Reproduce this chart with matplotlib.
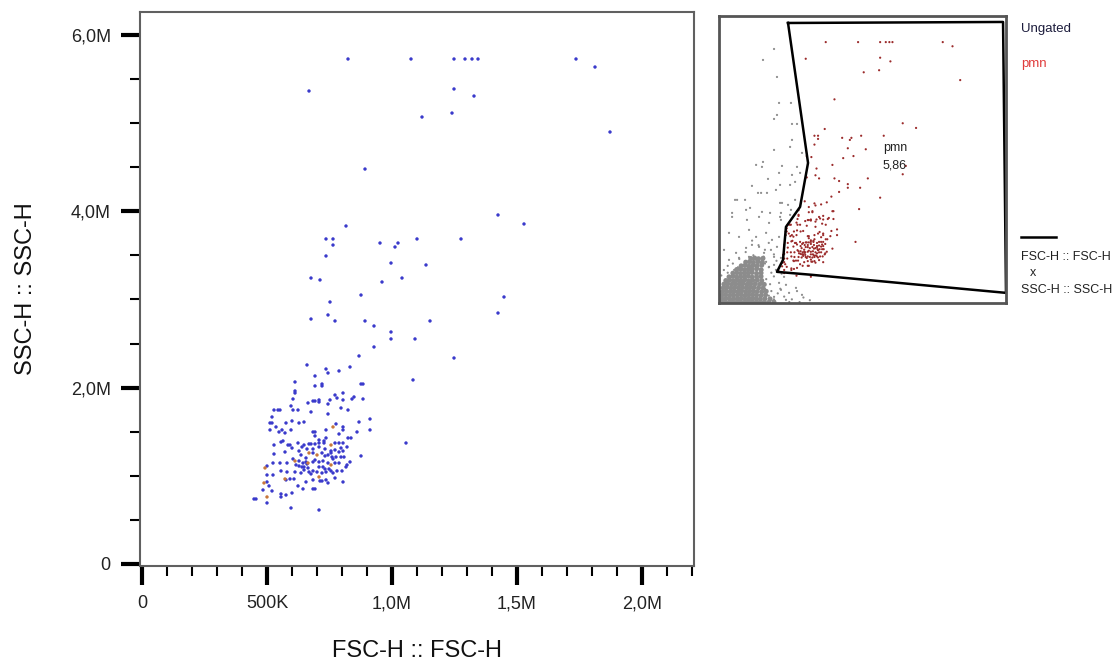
import matplotlib
matplotlib.use('Agg')
import matplotlib.pyplot as plt
from matplotlib.ticker import MultipleLocator, FixedLocator

plt.rcParams['font.family'] = ['Liberation Sans', 'DejaVu Sans']

# pmn population, FSC-H / SSC-H in thousands
fsc_blue = [824, 668, 892, 816, 736, 764, 764, 952, 1024, 1012, 1100, 1276, 996, 1136, 736, 676, 712, 960, 1040, 876,
            752, 676, 744, 772, 892, 928, 1152, 996, 996, 1092, 1248, 1084, 1056, 1076, 1248, 1292, 1320, 1344, 1736, 1812,
            1248, 1328, 1120, 1240, 1872, 1424, 1528, 1448, 1424,
            660, 612, 612, 612, 604, 664, 596, 528, 544, 552, 604, 624, 520,
            928, 868, 832, 736, 744, 788, 692, 692, 720, 720, 876, 884, 804, 772, 780, 752, 804, 848, 840, 884,
            684, 692, 708, 708, 744, 676, 796, 824, 744, 912,
            512, 520, 536, 576, 600, 628, 648, 560, 572, 596, 512, 548, 556, 564, 584, 592, 528, 624, 640, 648,
            668, 572, 600, 628, 660, 528, 636, 656, 604, 628, 644, 656, 660, 580, 552, 524, 500, 616, 628, 640,
            648, 664, 556, 580, 612, 636, 648, 668, 500, 524, 576, 592, 608, 500, 656, 508, 624, 520, 644, 484,
            556, 556, 576, 600, 448, 456, 500, 596,
            776, 804, 804, 868, 912, 860, 788, 824, 836, 684, 692, 692, 736, 736, 708, 728, 676, 692, 708, 728,
            772, 788, 804, 796, 820, 684, 708, 732, 756, 756, 760, 772, 788, 804, 684, 720, 732, 744, 764, 776,
            796, 808, 876, 692, 684, 708, 724, 744, 772, 788, 820, 832, 708, 724, 732, 748, 764, 756, 684, 700,
            720, 736, 780, 800, 816, 676, 772, 684, 712, 720, 736, 744, 804, 684, 692, 708]
ssc_blue = [5727, 5364, 4479, 3833, 3686, 3686, 3617, 3640, 3640, 3595, 3686, 3686, 3413, 3391, 3493, 3243, 3221, 3198, 3243, 3050,
            2971, 2778, 2824, 2756, 2756, 2699, 2756, 2631, 2552, 2552, 2336, 2087, 1372, 5727, 5727, 5727, 5727, 5727, 5727, 5636,
            5387, 5307, 5069, 5114, 4899, 3958, 3856, 3028, 2846,
            2257, 2064, 1962, 1939, 1871, 1826, 1792, 1746, 1746, 1746, 1746, 1746, 1667,
            2461, 2359, 2234, 2211, 2166, 2189, 2132, 2019, 2041, 2019, 2041, 2041, 1939, 1916, 1882, 1860, 1860, 1894, 1871, 1871,
            1848, 1848, 1860, 1837, 1814, 1724, 1769, 1746, 1701, 1644,
            1599, 1599, 1554, 1599, 1622, 1599, 1610, 1520, 1486, 1520, 1520, 1497, 1383, 1395, 1349, 1349, 1349, 1372, 1327, 1349,
            1361, 1270, 1315, 1281, 1304, 1247, 1236, 1202, 1191, 1168, 1145, 1157, 1134, 1145, 1145, 1145, 1111, 1123, 1111, 1100,
            1100, 1089, 1055, 1043, 1043, 1032, 1066, 1043, 1009, 1009, 953, 964, 964, 930, 930, 885, 885, 828, 851, 839,
            794, 760, 782, 805, 737, 737, 692, 635,
            1588, 1554, 1520, 1610, 1520, 1497, 1474, 1429, 1429, 1497, 1497, 1452, 1520, 1429, 1406, 1395, 1361, 1361, 1372, 1372,
            1372, 1372, 1372, 1315, 1327, 1304, 1327, 1304, 1281, 1259, 1213, 1293, 1270, 1281, 1259, 1259, 1225, 1236, 1191, 1213,
            1213, 1213, 1225, 1179, 1157, 1157, 1168, 1145, 1145, 1145, 1123, 1157, 1100, 1100, 1077, 1077, 1032, 1055, 1055, 1043,
            1032, 1043, 1055, 1055, 1100, 1021, 975, 953, 941, 941, 953, 919, 930, 851, 851, 612]
fsc_orange = [668, 612, 664, 492, 572, 488, 500, 764, 756, 700, 756, 708]
ssc_orange = [1259, 1168, 1145, 1089, 964, 919, 760, 1554, 1349, 1236, 1123, 987]

# ungated events outside the gate (inset), thousands
fsc_gray = [421, 335, 444, 460, 553, 421, 444, 561, 600, 421, 561, 546, 639, 335, 327, 281, 483, 600, 624, 561,
            249, 296, 366, 468, 546, 585, 133, 195, 234, 327, 468, 530, 585, 94, 210, 390, 468, 546,
            460, 117, 374, 320, 436, 483, 94, 203, 304, 382, 475, 475, 553, 70, 148, 226, 281, 359,
            405, 460, 444, 499, 31, 125, 203, 249, 304, 343, 397, 421, 475, 70, 148, 226, 281, 359,
            382, 421, 436, 499, 460, 514, 475, 538, 592, 421, 639, 514,
            60, 110, 160, 200, 240, 280, 310, 330, 270, 220, 180, 140, 300, 350, 380, 400, 360, 390, 420, 340,
            260, 200, 150, 100, 60, 30, 10, 350, 420, 300, 380, 250, 440, 460, 480, 330, 300, 350, 400, 380,
            420, 450, 500, 470, 560, 600, 650, 700, 540, 620]
ssc_gray = [5577, 5338, 4967, 4401, 4401, 4052, 4139, 3943, 3943, 3377, 3595, 3442, 3312, 3115, 3007, 3050, 3028, 3007, 2876, 2832,
            2593, 2440, 2440, 2614, 2614, 2680, 2288, 2288, 2113, 2026, 2222, 2179, 2288, 1917, 1852, 2004, 1917, 1961,
            2876, 2288, 2745, 2440, 2505, 2222, 2004, 2070, 1917, 1786, 2004, 1852, 2070, 1569, 1481, 1634, 1481, 1569,
            1416, 1481, 1264, 1307, 1198, 1133, 1242, 1307, 1264, 1133, 1198, 1046, 1024, 980, 1024, 1046, 980, 937,
            828, 871, 762, 610, 479, 436, 327, 261, 370, 174, 218, 109,
            700, 760, 650, 720, 800, 690, 600, 760, 880, 930, 850, 820, 980, 900, 820, 700, 560, 450, 620, 1050,
            1080, 1150, 1000, 900, 850, 760, 640, 1200, 1100, 1300, 1350, 1400, 960, 800, 680, 480, 420, 350, 300, 200,
            120, 250, 180, 350, 120, 300, 160, 100, 60, 60]
# dense debris cloud in the lower left corner of the inset
fsc_blob = [10, 40, 70, 100, 130, 160, 190, 220, 250, 280, 310, 345, 380, 420,
            15, 45, 75, 105, 135, 165, 195, 225, 255, 285, 315, 350, 390,
            15, 45, 75, 105, 135, 165, 195, 225, 255, 285, 320, 355,
            20, 50, 80, 110, 140, 170, 200, 230, 260, 290, 325, 360,
            25, 55, 85, 115, 145, 175, 205, 235, 265, 300, 335,
            30, 60, 90, 120, 150, 180, 210, 240, 275, 310, 345,
            45, 75, 105, 135, 165, 195, 225, 255, 290, 325,
            70, 100, 130, 160, 190, 220, 250, 285, 320,
            100, 130, 160, 190, 220, 250, 285, 320,
            130, 160, 190, 220, 250, 285, 320,
            165, 195, 225, 255, 290, 325,
            200, 230, 260, 295, 330,
            240, 270, 300, 335]
ssc_blob = [55, 65, 50, 60, 55, 70, 50, 60, 65, 55, 50, 60, 55, 65,
            130, 140, 125, 135, 130, 145, 125, 135, 140, 130, 125, 135, 130,
            210, 220, 205, 215, 210, 225, 205, 215, 220, 210, 205, 215,
            290, 300, 285, 295, 290, 305, 285, 295, 300, 290, 285, 295,
            370, 380, 365, 375, 370, 385, 365, 375, 380, 370, 365,
            450, 460, 445, 455, 450, 465, 445, 455, 460, 450, 445,
            530, 540, 525, 535, 530, 545, 525, 535, 540, 530,
            610, 620, 605, 615, 610, 625, 605, 615, 620,
            690, 700, 685, 695, 690, 705, 685, 695,
            770, 780, 765, 775, 770, 785, 765,
            850, 860, 845, 855, 850, 865,
            930, 940, 925, 935, 930,
            1010, 1020, 1005, 1015]

# pmn gate polygon, thousands
gate_x = [530, 2206, 2229, 717, 444, 491, 514, 624, 686, 530]
gate_y = [6144, 6166, 261, 654, 719, 980, 1699, 2135, 3094, 6144]

x_ticks = [0, 500, 1000, 1500, 2000]
x_labels = ['0', '500K', '1,0M', '1,5M', '2,0M']
y_ticks = [0, 2000, 4000, 6000]
y_labels = ['0', '2,0M', '4,0M', '6,0M']

fig = plt.figure(figsize=(11.18, 6.61), dpi=100)

# main plot
ax = fig.add_axes([140 / 1118, 1 - 566 / 661, 554 / 1118, 554 / 661])
ax.scatter(fsc_blue, ssc_blue, s=6, color='#3a3acb', edgecolors='none')
ax.scatter(fsc_orange, ssc_orange, s=6, color='#c8783c', edgecolors='none')
ax.set_xlim(-8, 2208)
ax.set_ylim(-23, 6260)
ax.xaxis.set_major_locator(FixedLocator(x_ticks))
ax.set_xticklabels(x_labels)
ax.yaxis.set_major_locator(FixedLocator(y_ticks))
ax.set_yticklabels(y_labels)
ax.xaxis.set_minor_locator(MultipleLocator(100))
ax.yaxis.set_minor_locator(MultipleLocator(500))
ax.tick_params(which='major', length=14, width=3, color='black', labelsize=13, pad=7, labelcolor='#222222')
ax.tick_params(which='minor', length=7, width=1.5, color='black')
for s in ax.spines.values():
    s.set_color('#606060')
    s.set_linewidth(1.5)
ax.set_xlabel('FSC-H :: FSC-H', fontsize=17, labelpad=20, color='#111111')
ax.set_ylabel('SSC-H :: SSC-H', fontsize=17, labelpad=24, color='#111111')

# inset: ungated with gate
ins = fig.add_axes([719 / 1118, 1 - 303 / 661, 287 / 1118, 287 / 661])
ins.scatter(fsc_blob, ssc_blob, s=13, color='#8c8c8c', edgecolors='none')
ins.scatter(fsc_gray, ssc_gray, s=2.5, color='#8c8c8c', edgecolors='none')
ins.scatter(fsc_blue + fsc_orange, ssc_blue + ssc_orange, s=2.5, color='#9b2b2b', edgecolors='none')
ins.plot(gate_x, gate_y, color='black', lw=1.8)
ins.text(1364, 3420, 'pmn', fontsize=9, ha='center', va='center', color='#222222')
ins.text(1364, 3028, '5,86', fontsize=9, ha='center', va='center', color='#222222')
ins.set_xlim(-8, 2229)
ins.set_ylim(40, 6296)
ins.set_xticks([])
ins.set_yticks([])
for s in ins.spines.values():
    s.set_color('#555555')
    s.set_linewidth(2)

# legend texts
fig.text(1021 / 1118, 1 - 29 / 661, 'Ungated', fontsize=9.5, color='#1c1c3c', va='center')
fig.text(1021 / 1118, 1 - 64 / 661, 'pmn', fontsize=9.5, color='#e03c3c', va='center')
fig.add_artist(plt.Line2D([1021 / 1118, 1056 / 1118], [1 - 237 / 661, 1 - 237 / 661], color='black', lw=1.8))
fig.text(1021 / 1118, 1 - 257 / 661, 'FSC-H :: FSC-H', fontsize=9, color='#222222', va='center')
fig.text(1030 / 1118, 1 - 273 / 661, 'x', fontsize=9, color='#222222', va='center')
fig.text(1021 / 1118, 1 - 290 / 661, 'SSC-H :: SSC-H', fontsize=9, color='#222222', va='center')

fig.savefig('out.png', dpi=100)
